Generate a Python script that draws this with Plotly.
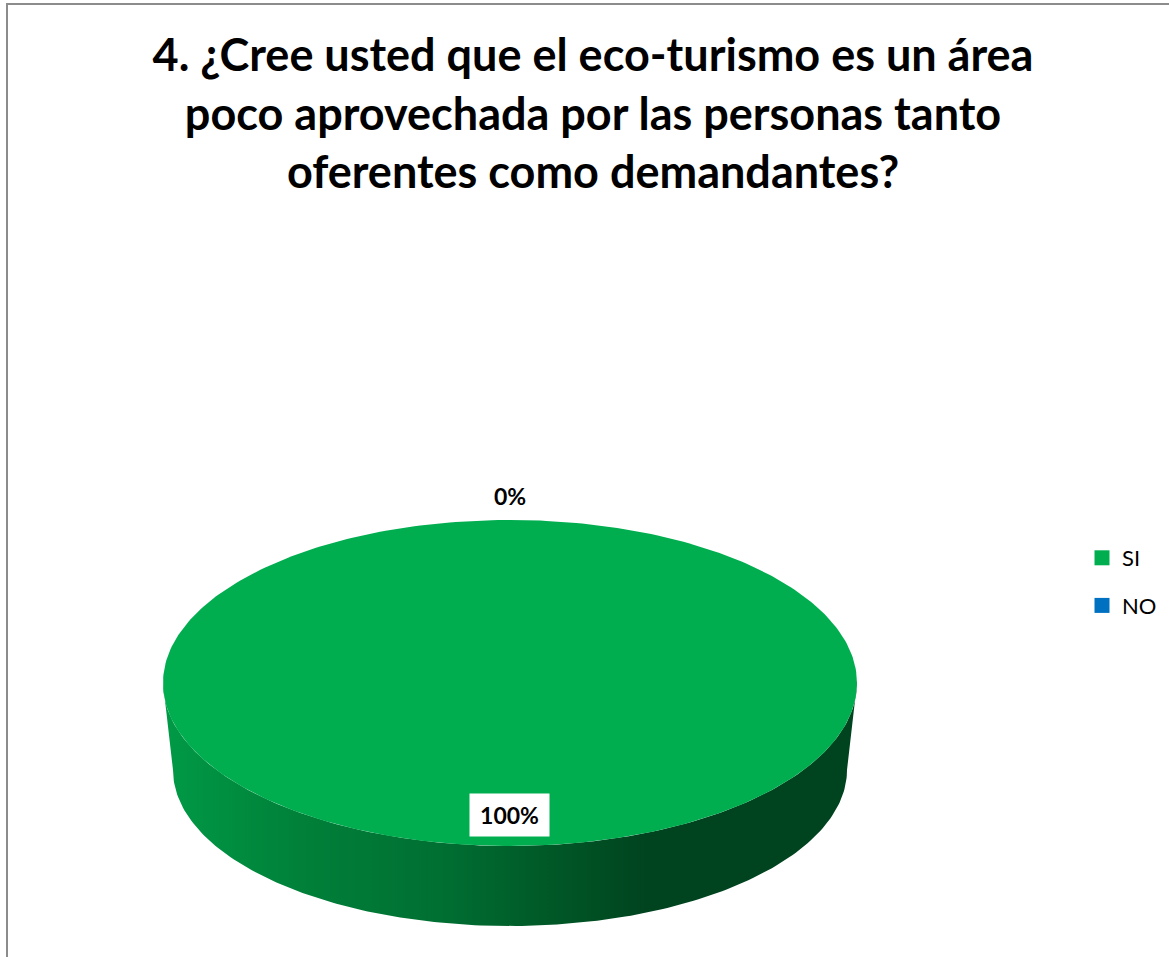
import numpy as np
import plotly.graph_objects as go

categories = ["SI", "NO"]
shares = [100, 0]
colors = ["#00AE50", "#0070C0"]
title_lines = [
    "4. ¿Cree usted que el eco-turismo es un área",
    "poco aprovechada por las personas tanto",
    "oferentes como demandantes?",
]

W, H = 1169, 957
CX, CY, RX, RY = 510, 683, 347, 163
BCY, BRX, BRY = 770, 337, 156
FONT = "Lato"

fig = go.Figure()


def pt(deg, cy=CY, rx=RX, ry=RY, cx=CX):
    # degrees clockwise from 12 o'clock
    a = np.radians(deg)
    return cx + rx * np.sin(a), cy - ry * np.cos(a)


# side wall, visible front half
front = np.linspace(90, 270, 181)
tx, ty = pt(front)
bx, by = pt(front[::-1], BCY, BRX, BRY)
fig.add_trace(go.Scatter(
    x=np.concatenate([tx, bx]), y=np.concatenate([ty, by]),
    mode="lines", line=dict(width=0), fill="toself",
    fillgradient=dict(
        type="horizontal",
        colorscale=[
            [0.0, "#009A46"], [0.20, "#008039"], [0.40, "#006F32"],
            [0.60, "#005224"], [0.70, "#00431F"], [1.0, "#00431F"],
        ],
    ),
    hoverinfo="skip", showlegend=False,
))

# top face: one wedge per category, from the shares
total = sum(shares)
start = 0.0
mids = []
for share, col in zip(shares, colors):
    sweep = 360.0 * share / total
    ang = np.linspace(start, start + sweep, 361)
    x, y = pt(ang)
    if sweep < 360:
        x, y = np.concatenate([[CX], x]), np.concatenate([[CY], y])
    fig.add_trace(go.Scatter(
        x=x, y=y, mode="lines", line=dict(width=0), fill="toself",
        fillcolor=col, hoverinfo="skip", showlegend=False,
    ))
    mids.append(start + sweep / 2)
    start += sweep

# legend entries
for name, col in zip(categories, colors):
    fig.add_trace(go.Scatter(
        x=[None], y=[None], mode="markers", name=name, legendgroup=name,
        marker=dict(symbol="square", size=15, color=col),
    ))

# data labels
lx, ly = pt(mids[0], CY - 31)
fig.add_annotation(
    x=lx - 1, y=ly, text=f"<b>{shares[0]}%</b>", showarrow=False,
    bgcolor="white", borderpad=0, width=79, height=42,
    font=dict(family=FONT, size=23, color="black"),
)
lx, ly = pt(mids[1], CY - 24)
fig.add_annotation(
    x=lx, y=ly, text=f"<b>{shares[1]}%</b>", showarrow=False,
    font=dict(family=FONT, size=23, color="black"),
)

fig.update_layout(
    width=W, height=H, autosize=False,
    margin=dict(l=0, r=0, t=0, b=0),
    paper_bgcolor="white", plot_bgcolor="white",
    title=dict(
        text="<br>".join(title_lines), x=593 / W, xanchor="center",
        y=1 - 71 / H, yanchor="top",
        font=dict(family=FONT, size=45, color="black", weight="bold"),
    ),
    xaxis=dict(visible=False, range=[0, W], domain=[0, 1], fixedrange=True),
    yaxis=dict(visible=False, range=[H, 0], domain=[0, 1], fixedrange=True),
    legend=dict(
        x=1082 / W, y=1 - 537 / H, xanchor="left", yanchor="top",
        font=dict(family=FONT, size=22, color="black"),
        tracegroupgap=16, itemwidth=30, bgcolor="rgba(0,0,0,0)",
    ),
    shapes=[dict(
        type="rect", xref="x", yref="y", x0=7, y0=4, x1=W + 50, y1=H + 50,
        line=dict(color="#8C8C8C", width=2), layer="below",
    )],
)

fig.write_html(
    "out.html",
    config={"displayModeBar": False},
    post_script="document.body.style.margin='0';document.body.style.overflow='hidden';",
)
